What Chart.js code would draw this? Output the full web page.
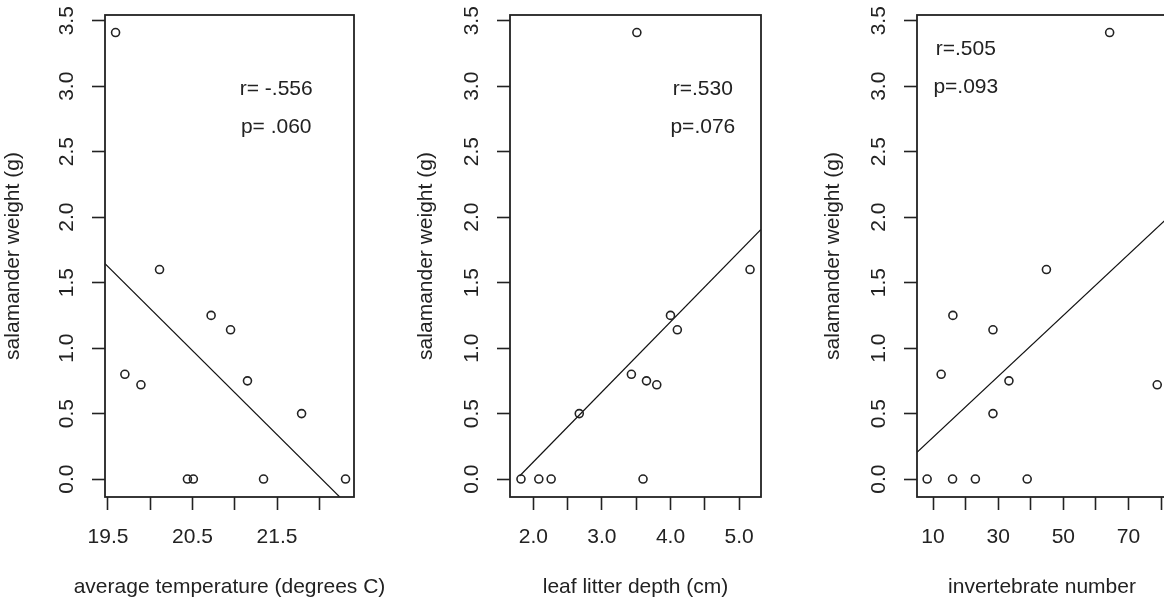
<!DOCTYPE html>
<html>
<head>
<meta charset="utf-8">
<script src="https://cdn.jsdelivr.net/npm/chart.js@4.4.1/dist/chart.umd.min.js"></script>
<style>
  html, body { margin: 0; padding: 0; background: #fff; width: 1164px; height: 601px; overflow: hidden; }
  canvas { position: absolute; top: 0; }
</style>
</head>
<body>
<canvas id="c1"></canvas>
<canvas id="c2"></canvas>
<canvas id="c3"></canvas>
<script>
// salamander weight (g), one value per site; same order in every x array
const weight = [3.41, 1.6, 1.25, 1.14, 0.8, 0.75, 0.72, 0.5, 0, 0, 0, 0];
const temperature = [19.59, 20.11, 20.72, 20.95, 19.70, 21.15, 19.89, 21.79, 20.44, 20.51, 21.34, 22.31];
const litterDepth = [3.51, 5.16, 4.0, 4.1, 3.43, 3.65, 3.80, 2.67, 1.82, 2.08, 2.26, 3.6];
const invertebrates = [64.2, 44.8, 16.1, 28.4, 12.5, 33.3, 78.8, 28.4, 8.2, 16.0, 23.0, 38.9];

const weightTicks = [0, 0.5, 1, 1.5, 2, 2.5, 3, 3.5];
const weightLabels = ["0.0", "0.5", "1.0", "1.5", "2.0", "2.5", "3.0", "3.5"];
const tempTicks = [19.5, 20, 20.5, 21, 21.5, 22];
const tempLabels = ["19.5", "", "20.5", "", "21.5", ""];
const depthTicks = [2, 2.5, 3, 3.5, 4, 4.5, 5];
const depthLabels = ["2.0", "", "3.0", "", "4.0", "", "5.0"];
const invTicks = [10, 20, 30, 40, 50, 60, 70, 80];
const invLabels = ["10", "", "30", "", "50", "", "70", ""];

const rLabels = ["r= -.556", "r=.530", "r=.505"];
const pLabels = ["p= .060", "p=.076", "p=.093"];

const FONT = '"Liberation Sans", Arial, sans-serif';
const INK = "#222";

const panels = [
  { id: "c1", left: 0, width: 400, yAxisW: 105, boxW: 249, xs: temperature, ticks: tempTicks, labels: tempLabels,
    min: 19.465, max: 22.41, title: "average temperature (degrees C)", fitX: [19.465, 22.41],
    stat: { x: 21.49, ry: 2.977, py: 2.69 } },
  { id: "c2", left: 413, width: 402, yAxisW: 97, boxW: 251, xs: litterDepth, ticks: depthTicks, labels: depthLabels,
    min: 1.66, max: 5.32, title: "leaf litter depth (cm)", fitX: [1.8, 5.32],
    stat: { x: 4.472, ry: 2.977, py: 2.69 } },
  { id: "c3", left: 820, width: 367, yAxisW: 97, boxW: 250, xs: invertebrates, ticks: invTicks, labels: invLabels,
    min: 5.09, max: 81.8, title: "invertebrate number", fitX: [5.09, 81.8],
    stat: { x: 20.07, ry: 3.282, py: 2.996 } }
];

// least squares fit of weight on x
function fit(xs, ys) {
  const n = xs.length;
  const mx = xs.reduce((a, b) => a + b, 0) / n;
  const my = ys.reduce((a, b) => a + b, 0) / n;
  let sxy = 0, sxx = 0;
  xs.forEach((x, i) => { sxy += (x - mx) * (ys[i] - my); sxx += (x - mx) ** 2; });
  const b = sxy / sxx;
  return { a: my - b * mx, b };
}

// R-style box round the plot, the r/p notes and the x axis title (not squeezed to the box width)
const framePlugin = {
  id: "frame",
  afterDatasetsDraw(chart, args, opts) {
    const { ctx, chartArea: a, scales: { x, y } } = chart;
    ctx.save();
    ctx.strokeStyle = INK;
    ctx.lineWidth = 1.8;
    ctx.strokeRect(a.left, a.top, a.right - a.left, a.bottom - a.top);
    ctx.fillStyle = INK;
    ctx.font = "21px " + FONT;
    ctx.textAlign = "center";
    ctx.textBaseline = "middle";
    ctx.fillText(opts.r, x.getPixelForValue(opts.x), y.getPixelForValue(opts.ry));
    ctx.fillText(opts.p, x.getPixelForValue(opts.x), y.getPixelForValue(opts.py));
    ctx.fillText(opts.title, (a.left + a.right) / 2, chart.height - 14);
    ctx.restore();
  }
};

panels.forEach((p, k) => {
  const el = document.getElementById(p.id);
  el.width = p.width;
  el.height = 601;
  el.style.left = p.left + "px";

  const f = fit(p.xs, weight);
  const pts = p.xs.map((x, i) => ({ x, y: weight[i] }));
  const line = p.fitX.map(x => ({ x, y: f.a + f.b * x }));

  new Chart(el, {
    type: "scatter",
    data: {
      datasets: [
        {
          data: pts,
          pointRadius: 4,
          pointHoverRadius: 4,
          borderWidth: 1.6,
          borderColor: INK,
          backgroundColor: "rgba(0,0,0,0)"
        },
        {
          data: line,
          showLine: true,
          pointRadius: 0,
          borderWidth: 1.2,
          borderColor: "#111",
          fill: false
        }
      ]
    },
    options: {
      responsive: false,
      animation: false,
      devicePixelRatio: 1,
      events: [],
      layout: { padding: { left: 0, right: p.width - p.yAxisW - p.boxW, top: 15, bottom: 0 } },
      plugins: {
        legend: { display: false },
        tooltip: { enabled: false },
        frame: { r: rLabels[k], p: pLabels[k], x: p.stat.x, ry: p.stat.ry, py: p.stat.py, title: p.title }
      },
      scales: {
        x: {
          type: "linear",
          min: p.min,
          max: p.max,
          afterBuildTicks: s => { s.ticks = p.ticks.map(v => ({ value: v })); },
          afterFit: s => { s.height = 104; s.paddingLeft = 0; s.paddingRight = 0; },
          border: { display: false },
          grid: { drawOnChartArea: false, drawTicks: true, tickLength: 13, tickColor: INK, tickWidth: 1.6 },
          ticks: {
            autoSkip: false, minRotation: 0, maxRotation: 0, padding: 15, color: INK,
            font: { family: FONT, size: 21 },
            callback: (v, i) => p.labels[i]
          }
        },
        y: {
          type: "linear",
          min: -0.137,
          max: 3.544,
          afterBuildTicks: s => { s.ticks = weightTicks.map(v => ({ value: v })); },
          afterFit: s => { s.width = p.yAxisW; s.paddingTop = 0; s.paddingBottom = 0; },
          border: { display: false },
          grid: { drawOnChartArea: false, drawTicks: true, tickLength: 13, tickColor: INK, tickWidth: 1.6 },
          ticks: {
            autoSkip: false, minRotation: 90, maxRotation: 90, crossAlign: "center", padding: 10, color: INK,
            font: { family: FONT, size: 21 },
            callback: (v, i) => weightLabels[i]
          },
          title: {
            display: true, text: "salamander weight (g)", color: INK,
            font: { family: FONT, size: 21, lineHeight: 1.2 },
            padding: { top: 1, bottom: 0 }
          }
        }
      }
    },
    plugins: [framePlugin]
  });
});
</script>
</body>
</html>
